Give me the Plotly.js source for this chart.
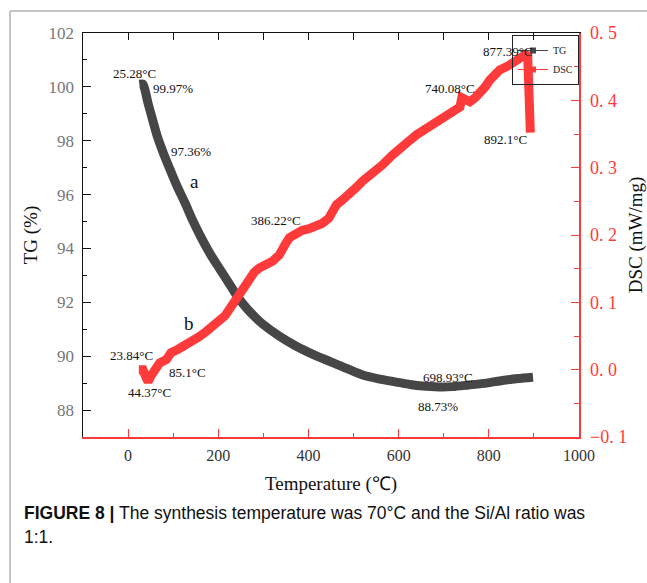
<!DOCTYPE html>
<html>
<head>
<meta charset="utf-8">
<script src="https://cdn.plot.ly/plotly-3.0.1.min.js"></script>
<style>
html,body{margin:0;padding:0;background:#fff;}
#chart{width:647px;height:583px;}
</style>
</head>
<body>
<div id="chart"></div>
<script>
// TG curve (temperature in °C, mass %)
const tgTemp  = [25, 33, 38, 44, 54, 65, 78, 93, 107, 126, 143, 161, 182, 204, 224, 243, 262, 280, 298, 335, 373, 410, 447, 484, 520, 558, 595, 625, 653, 690, 720, 755, 795, 830, 865, 898];
const tgValue = [100.1, 100.1, 99.85, 99.41, 98.8, 98.15, 97.55, 96.93, 96.37, 95.7, 95.05, 94.44, 93.8, 93.22, 92.7, 92.2, 91.8, 91.48, 91.2, 90.75, 90.37, 90.07, 89.81, 89.55, 89.3, 89.15, 89.04, 88.95, 88.89, 88.86, 88.87, 88.93, 89.0, 89.1, 89.17, 89.22];

// DSC curve (temperature in °C, mW/mg)
const dscTemp  = [23.84, 33, 40, 44.37, 52, 60, 70, 85.1, 95, 110, 125, 140, 155, 170, 187, 200, 215, 228, 240, 255, 269, 280, 291, 305, 320, 335, 342, 350, 358, 370, 386.22, 400, 417, 430, 445, 462, 475, 491, 505, 520, 540, 564, 585, 602, 620, 640, 660, 676, 695, 713, 730, 736, 740.08, 748, 758, 770, 780, 792, 802, 815, 824, 840, 853, 865, 877.39, 886, 892.1];
const dscValue = [0.0, 0.0, -0.012, -0.018, -0.008, 0.002, 0.01, 0.015, 0.025, 0.03, 0.035, 0.043, 0.048, 0.055, 0.064, 0.07, 0.08, 0.093, 0.106, 0.122, 0.136, 0.145, 0.151, 0.155, 0.161, 0.17, 0.176, 0.188, 0.196, 0.202, 0.207, 0.209, 0.213, 0.217, 0.225, 0.245, 0.252, 0.26, 0.27, 0.28, 0.29, 0.304, 0.318, 0.33, 0.338, 0.349, 0.358, 0.366, 0.374, 0.38, 0.387, 0.39, 0.404, 0.402, 0.398, 0.404, 0.41, 0.42, 0.43, 0.44, 0.445, 0.45, 0.455, 0.462, 0.468, 0.47, 0.352];

const seriesNames = ['TG', 'DSC'];
const xTicks = [0, 200, 400, 600, 800, 1000];
const y2TickVals = [-0.1, 0.0, 0.1, 0.2, 0.3, 0.4, 0.5];
const y2TickText = ['\u22120. 1', '0. 0', '0. 1', '0. 2', '0. 3', '0. 4', '0. 5'];

const GRAY = '#464646';
const RED = '#ff3a3a';
const SERIF = '"Liberation Serif", "Times New Roman", serif';

const traces = [
  {x: tgTemp, y: tgValue, type: 'scatter', mode: 'lines', name: seriesNames[0],
   line: {color: GRAY, width: 9, shape: 'spline', smoothing: 0.6}, xaxis: 'x', yaxis: 'y', showlegend: false, hoverinfo: 'skip'},
  {x: dscTemp, y: dscValue, type: 'scatter', mode: 'lines', name: seriesNames[1],
   line: {color: RED, width: 9}, xaxis: 'x', yaxis: 'y2', showlegend: false, hoverinfo: 'skip'},
  // legend entries
  {x: [null], y: [null], type: 'scatter', mode: 'lines+markers', name: seriesNames[0],
   line: {color: GRAY, width: 1}, marker: {symbol: 'square', size: 6, color: GRAY},
   xaxis: 'x', yaxis: 'y'},
  {x: [null], y: [null], type: 'scatter', mode: 'lines+markers', name: seriesNames[1],
   line: {color: RED, width: 1}, marker: {symbol: 'square', size: 6, color: RED},
   xaxis: 'x', yaxis: 'y'},
  // carrier for the top mirror axis
  {x: [null], y: [null], type: 'scatter', mode: 'lines', showlegend: false, xaxis: 'x2', yaxis: 'y', hoverinfo: 'skip'}
];

function ann(text, x, y, size, yref) {
  return {text: text, x: x, y: y, xref: 'x', yref: yref || 'y', showarrow: false,
          font: {family: SERIF, size: size || 13, color: '#111'}, xanchor: 'center', yanchor: 'middle'};
}

// pixel->paper helpers for frame lines
const L = 83, R = 68, T = 33, B = 146, W = 647, H = 583;
const pw = W - L - R, ph = H - T - B;
const px = v => (v - L) / pw;
const py = v => 1 - (v - T) / ph;

const layout = {
  width: W, height: H,
  margin: {l: L, r: R, t: T, b: B, pad: 0},
  paper_bgcolor: '#fff', plot_bgcolor: '#fff',
  showlegend: true,
  legend: {x: 1, y: 0.995, xanchor: 'right', yanchor: 'top', bgcolor: 'rgba(255,255,255,0)',
           bordercolor: '#222', borderwidth: 1, font: {family: SERIF, size: 10, color: '#222'},
           itemwidth: 30},
  xaxis: {range: [-100, 1000], tickvals: xTicks, ticks: 'inside', ticklen: 8, tickwidth: 1,
          tickcolor: RED, showline: true, linecolor: RED, linewidth: 1.5, zeroline: false,
          showgrid: false, minor: {ticks: 'inside', ticklen: 4, dtick: 100, tick0: 0, tickcolor: RED, showgrid: false},
          tickfont: {family: SERIF, size: 16, color: '#333'}, ticklabelstandoff: 3,
          title: {text: 'Temperature (\u2103)', font: {family: SERIF, size: 19, color: '#111'}, standoff: 14}},
  xaxis2: {range: [-100, 1000], overlaying: 'x', side: 'top', dtick: 100, tick0: 0,
           ticks: 'inside', ticklen: 7, tickcolor: '#111', showline: true, linecolor: '#111',
           linewidth: 1.5, showticklabels: false, showgrid: false, zeroline: false},
  yaxis: {range: [87, 102], dtick: 2, tick0: 88, ticks: 'inside', ticklen: 8, tickcolor: '#111',
          showline: true, linecolor: '#111', linewidth: 1.5, zeroline: false, showgrid: false,
          minor: {ticks: 'inside', ticklen: 4, dtick: 1, tick0: 88, tickcolor: '#111', showgrid: false},
          tickfont: {family: SERIF, size: 17, color: '#777'}, ticklabelstandoff: 4,
          title: {text: 'TG (%)', font: {family: SERIF, size: 19, color: '#111'}, standoff: 6}},
  yaxis2: {range: [-0.1, 0.5], overlaying: 'y', side: 'right', tickvals: y2TickVals, ticktext: y2TickText,
           ticks: 'inside', ticklen: 8, tickcolor: RED, showline: true, linecolor: RED, linewidth: 1.5,
           zeroline: false, showgrid: false,
           minor: {ticks: 'inside', ticklen: 5, dtick: 0.05, tick0: 0, tickcolor: RED, showgrid: false},
           tickfont: {family: SERIF, size: 18, color: RED}, ticklabelstandoff: 6,
           title: {text: 'DSC (mW/mg)', font: {family: SERIF, size: 19, color: '#111'}, standoff: 6}},
  annotations: [
    ann('25.28°C', 13.3, 100.48),
    ann('99.97%', 100, 99.93),
    ann('97.36%', 140, 97.59),
    ann('a', 146.7, 96.5, 19),
    ann('386.22°C', 329, 95.04),
    ann('b', 135.6, 91.2, 19),
    ann('23.84°C', 6.7, 90.04),
    ann('85.1°C', 131, 89.41),
    ann('44.37°C', 46.7, 88.67),
    ann('698.93°C', 709, 89.22),
    ann('88.73%', 687, 88.15),
    ann('740.08°C', 713, 99.93),
    ann('877.39°C', 842, 101.3),
    ann('892.1°C', 836, 98.04),
    {text: '<b>FIGURE 8 |</b> The synthesis temperature was 70°C and the Si/Al ratio was',
     xref: 'paper', yref: 'paper', x: px(22), y: py(513), xanchor: 'left', yanchor: 'middle',
     showarrow: false, font: {family: '"Liberation Sans", Arial, sans-serif', size: 17.5, color: '#111'}},
    {text: '1:1.', xref: 'paper', yref: 'paper', x: px(22), y: py(537), xanchor: 'left', yanchor: 'middle',
     showarrow: false, font: {family: '"Liberation Sans", Arial, sans-serif', size: 17.5, color: '#111'}}
  ],
  shapes: [
    {type: 'line', xref: 'paper', yref: 'paper', x0: px(10), x1: px(10), y0: py(11), y1: py(583),
     line: {color: '#c4c4c4', width: 2}},
    {type: 'line', xref: 'paper', yref: 'paper', x0: px(10), x1: px(647), y0: py(11), y1: py(11),
     line: {color: '#c4c4c4', width: 2}}
  ]
};

Plotly.newPlot('chart', traces, layout, {displayModeBar: false, staticPlot: true});
</script>
</body>
</html>
